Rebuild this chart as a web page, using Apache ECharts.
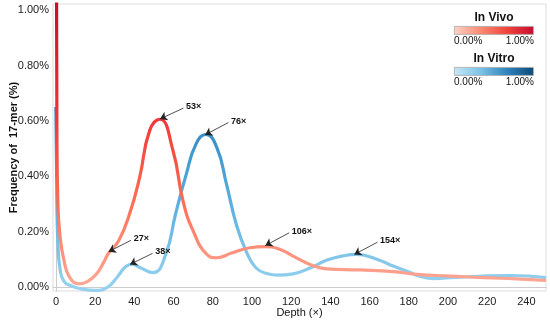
<!DOCTYPE html>
<html>
<head>
<meta charset="utf-8">
<script src="https://cdn.jsdelivr.net/npm/echarts@6/dist/echarts.min.js"></script>
<style>html,body{margin:0;padding:0;background:#fff}#chart{width:550px;height:322px}</style>
</head>
<body>
<div id="chart"></div>
<script>
// ---- data ----
const xTicks = [0, 20, 40, 60, 80, 100, 120, 140, 160, 180, 200, 220, 240];
const yTicks = [0, 0.2, 0.4, 0.6, 0.8, 1.0];

const vivoDepth = [0, 0.5, 1, 2, 4, 7, 12, 16, 20.5, 24, 27, 32, 37.5, 42.7, 47.8, 53, 59.7, 64.8, 70, 77, 82, 90, 99, 106.5, 114, 121, 129.6, 138, 155, 172, 184, 201, 218, 235, 250];
const vivoFreq  = [1.9, 0.55, 0.3, 0.19, 0.1, 0.035, 0.012, 0.02, 0.046, 0.085, 0.124, 0.167, 0.263, 0.396, 0.565, 0.606, 0.493, 0.312, 0.203, 0.118, 0.106, 0.124, 0.142, 0.146, 0.137, 0.112, 0.082, 0.066, 0.062, 0.056, 0.046, 0.04, 0.034, 0.03, 0.024];

const vitroDepth = [0, 0.5, 1, 2, 4, 8, 14, 20, 26, 31, 36, 39, 43, 49.5, 56, 61, 66.5, 71.5, 76.5, 82, 87, 92, 97, 102, 108, 113, 121, 130, 138, 146, 153, 164, 172, 181, 185, 193, 201, 218, 232, 250];
const vitroFreq  = [0.65, 0.3, 0.16, 0.07, 0.022, 0.004, -0.008, -0.012, -0.002, 0.034, 0.076, 0.082, 0.07, 0.052, 0.118, 0.263, 0.408, 0.517, 0.551, 0.505, 0.372, 0.227, 0.13, 0.07, 0.048, 0.043, 0.048, 0.07, 0.097, 0.112, 0.118, 0.1, 0.076, 0.052, 0.04, 0.031, 0.034, 0.04, 0.042, 0.034];

// annotations: label, arrow tip (depth, freq), label anchor (depth, freq)
const vivoNotes  = [['53×', [53.1, 0.607], [65, 0.646]], ['27×', [26.9, 0.128], [38.3, 0.169]], ['106×', [106.8, 0.150], [119, 0.196]]];
const vitroNotes = [['76×', [76.1, 0.55], [88, 0.594]], ['38×', [37.8, 0.082], [49.3, 0.122]], ['154×', [152.2, 0.118], [164, 0.162]]];

const vivoColors  = ['#fcaa98', '#fb6a50', '#f02c35', '#cc0f30'];
const vitroColors = ['#96d2ef', '#56acdc', '#2a80b9', '#0d4f80'];

// ---- build ----
const FONT = 'Liberation Sans, Arial, sans-serif';
const zip = (a, b) => a.map((v, i) => [v, b[i]]);
function markLine(list) {
  return {
    silent: true,
    animation: false,
    symbol: ['arrow', 'none'],
    symbolSize: 7,
    lineStyle: { color: '#222', width: 0.8, type: 'solid', opacity: 1 },
    itemStyle: { color: '#111' },
    emphasis: { disabled: true },
    label: { show: true, position: 'end', fontFamily: FONT, fontSize: 9, fontWeight: 'bold', color: '#111', distance: 3 },
    data: list.map(([label, tip, anchor]) => [
      { coord: tip, symbol: 'arrow', symbolSize: 7 },
      { coord: anchor, symbol: 'none', label: { formatter: label } }
    ])
  };
}
function gradBar(y, colors) {
  return {
    type: 'rect', left: 454, top: y, shape: { width: 79, height: 8 },
    style: {
      fill: new echarts.graphic.LinearGradient(0, 0, 1, 0, colors.map((c, i) => ({ offset: i / (colors.length - 1), color: c }))),
      stroke: '#aaa', lineWidth: 0.8
    }
  };
}
const txt = (x, y, text, align, bold, size) => ({
  type: 'text', x: x, y: y,
  style: { text: text, fill: '#111', font: (bold ? 'bold ' : '') + size + 'px ' + FONT, textAlign: align, textVerticalAlign: 'middle' }
});

const chart = echarts.init(document.getElementById('chart'), null, { renderer: 'canvas' });
chart.setOption({
  animation: false,
  backgroundColor: '#fff',
  grid: { left: 53, right: 4, top: 4, bottom: 31, show: true, borderColor: '#ddd', borderWidth: 1,
    containLabel: false, outerBoundsMode: 'none' },
  xAxis: {
    type: 'value', min: -1.5, max: 250,
    name: 'Depth (×)', nameLocation: 'middle', nameGap: 16, nameMoveOverlap: false,
    nameTextStyle: { fontFamily: FONT, fontSize: 11, color: '#111' },
    axisLine: { lineStyle: { color: '#ccc' } },
    axisTick: { show: false },
    splitLine: { show: false },
    axisLabel: { customValues: xTicks, fontFamily: FONT, fontSize: 11, color: '#222', margin: 5 }
  },
  yAxis: {
    type: 'value', min: -0.014, max: 1.022,
    name: 'Frequency of  17-mer (%)', nameLocation: 'middle', nameGap: 34, nameMoveOverlap: false,
    nameTextStyle: { fontFamily: FONT, fontSize: 11, fontWeight: 'bold', color: '#111' },
    axisLine: { show: true, lineStyle: { color: '#ccc' } },
    axisTick: { show: false },
    splitLine: { show: false },
    axisLabel: { customValues: yTicks, fontFamily: FONT, fontSize: 11, color: '#222', margin: 4,
      formatter: v => v.toFixed(2) + '%' }
  },
  visualMap: [
    { type: 'continuous', show: false, seriesIndex: 0, dimension: 1, min: 0, max: 1, inRange: { color: vitroColors } },
    { type: 'continuous', show: false, seriesIndex: 1, dimension: 1, min: 0, max: 1, inRange: { color: vivoColors } }
  ],
  series: [
    { name: 'In Vitro', type: 'line', data: zip(vitroDepth, vitroFreq), smooth: 0.5,
      showSymbol: false, lineStyle: { width: 3.2 }, markLine: markLine(vitroNotes) },
    { name: 'In Vivo', type: 'line', data: zip(vivoDepth, vivoFreq), smooth: 0.5,
      showSymbol: false, lineStyle: { width: 3.2 }, markLine: markLine(vivoNotes) }
  ],
  graphic: [
    txt(494, 18, 'In Vivo', 'center', true, 12),
    gradBar(26, ['#fdd3c6', '#fb8a72', '#f0443c', '#c80a30']),
    txt(454, 41, '0.00%', 'left', false, 10),
    txt(534, 41, '1.00%', 'right', false, 10),
    txt(494, 59, 'In Vitro', 'center', true, 12),
    gradBar(67, ['#c6e7f6', '#7cc3e8', '#2f82ba', '#0b4a78']),
    txt(454, 82, '0.00%', 'left', false, 10),
    txt(534, 82, '1.00%', 'right', false, 10)
  ]
});
</script>
</body>
</html>
